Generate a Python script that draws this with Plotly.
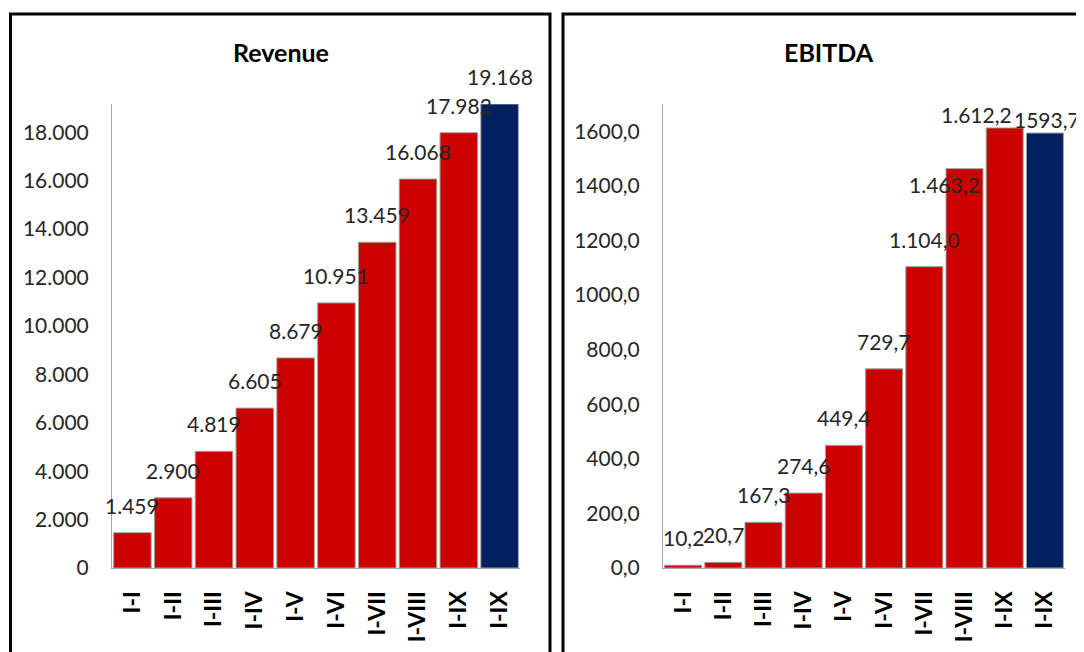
import plotly.graph_objects as go

# page body has an 8px margin; the figure fills the rest of the window
OFF = 8
W, H = 1084 - OFF, 652 - OFF

periods = ["I-I", "I-II", "I-III", "I-IV", "I-V", "I-VI", "I-VII", "I-VIII", "I-IX", "I-IX"]
revenue = [1459, 2900, 4819, 6605, 8679, 10951, 13459, 16068, 17982, 19168]
revenue_labels = ["1.459", "2.900", "4.819", "6.605", "8.679", "10.951", "13.459", "16.068", "17.982", "19.168"]
ebitda = [10.2, 20.7, 167.3, 274.6, 449.4, 729.7, 1104.0, 1463.2, 1612.2, 1593.7]
ebitda_labels = ["10,2", "20,7", "167,3", "274,6", "449,4", "729,7", "1.104,0", "1.463,2", "1.612,2", "1593,7"]

# style lists (not data)
RED, NAVY = "#CC0000", "#002060"
bar_colors = [RED] * 9 + [NAVY]
rev_dx = [0] * 10
rev_dy = [0] * 10
ebi_dx = [0, 0, 0, 0, 0, 0, 0, -20, -28, 2]
ebi_dy = [0, 0, 0, 0, 0, 0, 0, -43, -14, -14]

FONT = "Lato"
TXT = "#262626"
AX = "#A6A6A6"

idx = list(range(len(periods)))

fig = go.Figure()
fig.add_trace(go.Bar(x=idx, y=revenue, marker=dict(color=bar_colors, line=dict(color="#A0A0A0", width=1)),
                     xaxis="x", yaxis="y", hoverinfo="skip"))
fig.add_trace(go.Bar(x=idx, y=ebitda, marker=dict(color=bar_colors, line=dict(color="#A0A0A0", width=1)),
                     xaxis="x2", yaxis="y2", hoverinfo="skip"))

def px(x):
    return (x - OFF) / W

def py(y):
    return 1 - (y - OFF) / H

annotations = []
for i, v in enumerate(revenue):
    annotations.append(dict(x=i, y=v, xref="x", yref="y", text=revenue_labels[i], showarrow=False,
                            yanchor="bottom", xanchor="center", yshift=13 + rev_dy[i], xshift=rev_dx[i],
                            font=dict(family=FONT, size=21, color=TXT)))
for i, v in enumerate(ebitda):
    annotations.append(dict(x=i, y=v, xref="x2", yref="y2", text=ebitda_labels[i], showarrow=False,
                            yanchor="bottom", xanchor="center", yshift=13 + ebi_dy[i], xshift=ebi_dx[i],
                            font=dict(family=FONT, size=21, color=TXT)))
annotations.append(dict(x=px(281), y=py(52), xref="paper", yref="paper", text="<b>Revenue</b>", showarrow=False,
                        xanchor="center", yanchor="middle", font=dict(family=FONT, size=25, color="#000")))
annotations.append(dict(x=px(829), y=py(52), xref="paper", yref="paper", text="<b>EBITDA</b>", showarrow=False,
                        xanchor="center", yanchor="middle", font=dict(family=FONT, size=25, color="#000")))

shapes = [
    dict(type="rect", xref="paper", yref="paper", x0=px(10.5), x1=px(550), y0=py(14), y1=py(700),
         line=dict(color="#000", width=3)),
    dict(type="rect", xref="paper", yref="paper", x0=px(563), x1=px(1120), y0=py(14), y1=py(700),
         line=dict(color="#000", width=3)),
]

xcommon = dict(tickmode="array", tickvals=idx, ticktext=periods, tickangle=-90, showgrid=False,
               showline=True, linecolor=AX, linewidth=1, ticks="", range=[-0.5, 9.5], zeroline=False,
               automargin=False,
               tickfont=dict(family=FONT, size=23, color="#000", weight="bold"), ticklabelstandoff=13)
ycommon = dict(showgrid=False, showline=True, linecolor=AX, linewidth=1, ticks="", zeroline=False,
               automargin=False,
               tickfont=dict(family=FONT, size=21, color=TXT), ticklabelstandoff=18)

fig.update_layout(
    width=W, height=H, margin=dict(l=0, r=0, t=0, b=0),
    paper_bgcolor="white", plot_bgcolor="white", showlegend=False,
    separators=",.", bargap=0.08,
    xaxis=dict(domain=[px(112), px(520)], anchor="y", **xcommon),
    xaxis2=dict(domain=[px(663), px(1065)], anchor="y2", **xcommon),
    yaxis=dict(domain=[py(568), py(104)], anchor="x", range=[0, 19168], tickvals=list(range(0, 18001, 2000)),
               tickformat=",d", **ycommon),
    yaxis2=dict(domain=[py(568), py(104)], anchor="x2", range=[0, 1700], tickvals=list(range(0, 1601, 200)),
                tickformat=".1f", **ycommon),
    annotations=annotations, shapes=shapes,
)

fig.write_html("out.html")
